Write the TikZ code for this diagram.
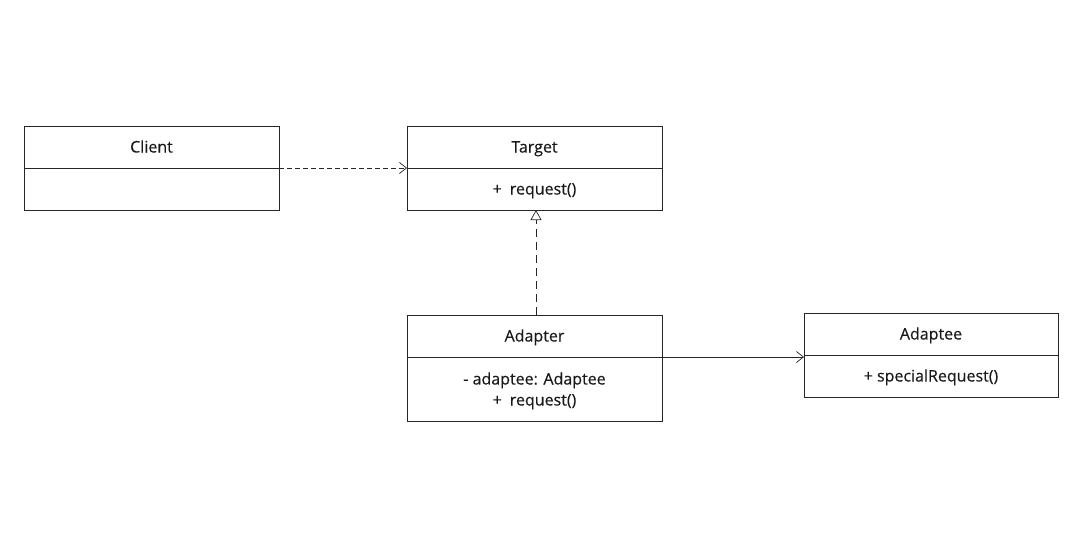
\documentclass[tikz,border=0pt]{standalone}
\usepackage{fontspec}
\setmainfont{Open Sans}
\newfontfamily\umlfont[FakeBold=0.3]{Open Sans}
\usetikzlibrary{arrows.meta,positioning}
\begin{document}
\begin{tikzpicture}[x=1pt,y=-1pt,
  cls/.style={draw=black!85,line width=0.9pt,minimum width=255pt,inner sep=0pt,anchor=north west},
  lbl/.style={font=\umlfont\fontsize{16}{21}\selectfont,inner sep=0pt,anchor=base,text=black!90},
  conn/.style={line width=0.9pt,draw=black!85},
  openarr/.style={-{Straight Barb[length=7pt,width=11pt,line width=0.7pt]}},
  realize/.style={dash pattern=on 8pt off 5pt,-{Triangle[open,length=10pt,width=11pt,line width=0.7pt,fill=white]}}]
\useasboundingbox (0,0) rectangle (1087,557);
% Client
\node[cls,minimum height=84pt] (client) at (24,126) {};
\draw[conn] (24,168) coordinate (clientdl) -- (279,168) coordinate (clientdr);
\node[lbl] (clientname) at (151.5,152.5) {Client};
% Target
\node[cls,minimum height=84pt] (target) at (407,126) {};
\draw[conn] (407,168) coordinate (targetdl) -- (662,168) coordinate (targetdr);
\node[lbl] (targetname) at (534.5,152.5) {Target};
\node[lbl] (targetops) at (534.5,194.5) {+\enspace request()};
% Adapter
\node[cls,minimum height=106pt] (adapter) at (407,315) {};
\draw[conn] (407,357) coordinate (adapterdl) -- (662,357) coordinate (adapterdr);
\node[lbl] (adaptername) at (534.5,341.5) {Adapter};
\node[lbl] (adapterop1) at (534.5,384.5) {- adaptee: Adaptee};
\node[lbl] (adapterop2) at (534.5,405.5) {+\enspace request()};
% Adaptee
\node[cls,minimum height=84pt,minimum width=254pt] (adaptee) at (804,313) {};
\draw[conn] (804,355) coordinate (adapteedl) -- (1058,355) coordinate (adapteedr);
\node[lbl] (adapteename) at (931,339.5) {Adaptee};
\node[lbl] (adapteeops) at (931,381.5) {+ specialRequest()};
% connectors
\draw[conn,dash pattern=on 5pt off 3pt,openarr] (clientdr) -- (targetdl);
\coordinate (adtop) at (536,315);
\coordinate (tgbot) at (536,210);
\draw[conn,realize] (adtop) -- (tgbot);
\coordinate (adaptee357) at (804,357);
\draw[conn,openarr] (adapterdr) -- (adaptee357);
\end{tikzpicture}
\end{document}
